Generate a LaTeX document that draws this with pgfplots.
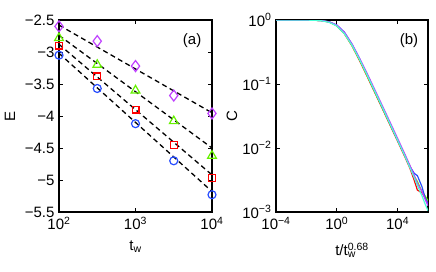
\documentclass[border=0pt]{standalone}
\usepackage{fontspec}
\setmainfont{Liberation Sans}
\usepackage{pgfplots}
\pgfplotsset{compat=1.18}
\definecolor{cred}{rgb}{1,0,0}
\definecolor{cgreen}{rgb}{0.4,0.95,0}
\definecolor{cblue}{rgb}{0.15,0.3,1}
\definecolor{cpurple}{rgb}{0.75,0.25,1}
\definecolor{ccyan}{rgb}{0.3,1,0.85}
\newcommand{\tp}[1]{10\textsuperscript{#1}}
\begin{document}
\begin{tikzpicture}[font=\fontsize{15}{18}\selectfont]
\useasboundingbox (0pt,0pt) rectangle (436pt,271pt);
\pgfplotsset{
  every axis/.append style={
    scale only axis, axis line style={line width=1.4pt}, tick align=inside,
    major tick length=4pt, tick style={line width=0.8pt, black},
    xminorticks=false, yminorticks=false,
    xticklabel style={yshift=-1.5pt}, yticklabel style={xshift=-1pt},
  }
}
\begin{axis}[at={(59pt,59pt)}, anchor=south west, width=153pt, height=192pt,
  xmode=log, xmin=100, xmax=10000, ymin=-5.5, ymax=-2.5,
  xtick={100,1000,10000}, xticklabels={\tp{2},\tp{3},\tp{4}},
  ytick={-5.5,-5,-4.5,-4,-3.5,-3,-2.5},
  yticklabels={−5.5,−5,−4.5,−4,−3.5,−3,−2.5},
  xlabel={t\textsubscript{w}}, ylabel={E},
  xlabel style={at={(axis description cs:0.5,-0.18)}, anchor=center},
  ylabel style={at={(axis description cs:-0.32,0.5)}, anchor=center},
  clip=false]
\addplot[black, line width=1.3pt, dash pattern=on 5pt off 3.5pt] coordinates {(100,-2.58) (10000,-3.95)};
\addplot[black, line width=1.3pt, dash pattern=on 5pt off 3.5pt] coordinates {(100,-2.74) (10000,-4.50)};
\addplot[black, line width=1.3pt, dash pattern=on 5pt off 3.5pt] coordinates {(100,-2.88) (10000,-4.92)};
\addplot[black, line width=1.3pt, dash pattern=on 5pt off 3.5pt] coordinates {(100,-3.02) (10000,-5.18)};
\addplot[only marks, mark=diamond, mark size=5.5pt, cpurple, line width=1.2pt] coordinates {(100,-2.6) (316.2,-2.83) (1000,-3.22) (3162,-3.68) (10000,-3.96)};
\addplot[only marks, mark=triangle, mark size=5pt, cgreen, line width=1.2pt] coordinates {(100,-2.78) (316.2,-3.2) (1000,-3.6) (3162,-4.08) (10000,-4.62)};
\addplot[only marks, mark=square, mark size=3.4pt, cred, line width=1.2pt] coordinates {(100,-2.9) (316.2,-3.38) (1000,-3.9) (3162,-4.45) (10000,-4.97)};
\addplot[only marks, mark=o, mark size=4pt, cblue, line width=1.2pt] coordinates {(100,-3.05) (316.2,-3.57) (1000,-4.12) (3162,-4.7) (10000,-5.23)};
\node at (axis description cs:0.87,0.895) {(a)};
\end{axis}
\begin{axis}[at={(276pt,59pt)}, anchor=south west, width=152pt, height=192pt,
  xmode=log, ymode=log, xmin=1e-4, xmax=1e6, ymin=1e-3, ymax=1,
  xtick={1e-4,1,1e4}, xticklabels={\tp{−4},\tp{0},\tp{4}},
  ytick={1e-3,1e-2,1e-1,1}, yticklabels={\tp{−3},\tp{−2},\tp{−1},\tp{0}},
  xlabel={t/t\rlap{\textsubscript{w}}\textsuperscript{0.68}}, ylabel={C},
  xlabel style={at={(axis description cs:0.5,-0.2)}, anchor=center},
  ylabel style={at={(axis description cs:-0.29,0.5)}, anchor=center},
  every axis plot/.append style={line width=1.2pt, no markers}]
\addplot[cred] coordinates {(1e-4,1) (1e-3,0.9998) (1e-2,0.9976) (3.162e-2,0.9924) (0.1,0.9764) (0.3162,0.93) (1,0.81) (3.162,0.61) (10,0.395) (31.62,0.232) (100,0.131) (316.2,0.0735) (1000,0.0412) (3162,0.0229) (1e4,0.0128) (3.162e4,0.0071) (6.31e4,0.0049) (1.259e5,0.0031) (2e5,0.0022) (3.98e5,0.0020) (6.31e5,0.0017) (1e6,0.0014)};
\addplot[cgreen] coordinates {(1e-4,1) (1e-3,0.9998) (1e-2,0.9976) (3.162e-2,0.9924) (0.1,0.9764) (0.3162,0.93) (1,0.815) (3.162,0.615) (10,0.40) (31.62,0.237) (100,0.134) (316.2,0.075) (1000,0.042) (3162,0.0235) (1e4,0.0132) (3.162e4,0.0074) (6.31e4,0.0053) (1.259e5,0.0036) (2e5,0.0030) (3.98e5,0.0021) (6.31e5,0.0018) (1e6,0.0015)};
\addplot[cblue] coordinates {(1e-4,1) (1e-3,0.9998) (1e-2,0.998) (3.162e-2,0.9935) (0.1,0.979) (0.3162,0.936) (1,0.835) (3.162,0.645) (10,0.42) (31.62,0.248) (100,0.140) (316.2,0.0775) (1000,0.0432) (3162,0.024) (1e4,0.0133) (3.162e4,0.0075) (6.31e4,0.0052) (1.259e5,0.0040) (2e5,0.0037) (3.98e5,0.0025) (6.31e5,0.0017) (1e6,0.00135)};
\addplot[cpurple] coordinates {(1e-4,1) (1e-3,0.9998) (1e-2,0.9978) (3.162e-2,0.993) (0.1,0.978) (0.3162,0.934) (1,0.83) (3.162,0.64) (10,0.42) (31.62,0.252) (100,0.145) (316.2,0.0815) (1000,0.0456) (3162,0.0254) (1e4,0.0141) (3.162e4,0.0078) (6.31e4,0.0054) (1.259e5,0.0037) (2e5,0.0028) (3.98e5,0.0021) (6.31e5,0.0016) (1e6,0.00125)};
\addplot[ccyan] coordinates {(1e-4,1) (1e-3,0.9997) (1e-2,0.997) (3.162e-2,0.991) (0.1,0.972) (0.3162,0.92) (1,0.805) (3.162,0.612) (10,0.402) (31.62,0.24) (100,0.137) (316.2,0.0768) (1000,0.043) (3162,0.0238) (1e4,0.0132) (3.162e4,0.0073) (6.31e4,0.005) (1.259e5,0.0034) (2e5,0.0026) (3.98e5,0.0018) (6.31e5,0.00135) (1e6,0.00105)};
\node at (axis description cs:0.875,0.895) {(b)};
\end{axis}
\end{tikzpicture}
\end{document}
